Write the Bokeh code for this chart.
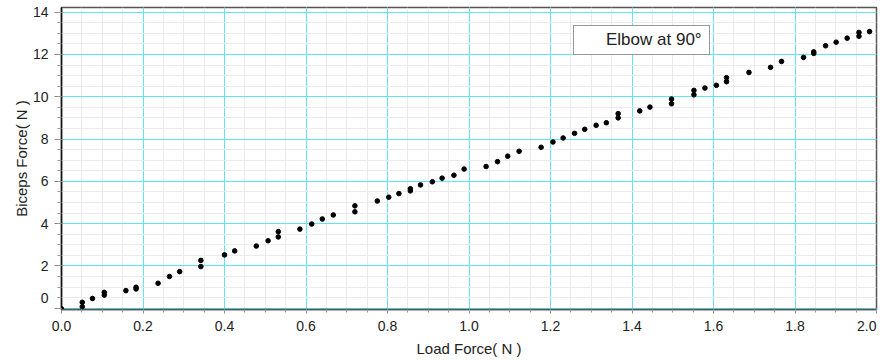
from bokeh.plotting import figure
from bokeh.models import FixedTicker, Range1d, Label, Legend, LegendItem
from bokeh.embed import file_html
from bokeh.resources import INLINE

# ---- data ----
load_force = [0.0, 0.051, 0.051, 0.076, 0.105, 0.105, 0.158, 0.183, 0.183, 0.237,
              0.265, 0.29, 0.342, 0.342, 0.40, 0.425, 0.478, 0.507, 0.532, 0.532,
              0.585, 0.614, 0.64, 0.667, 0.72, 0.72, 0.775, 0.803, 0.828, 0.856,
              0.856, 0.881, 0.91, 0.934, 0.963, 0.988, 1.042, 1.07, 1.095, 1.123,
              1.177, 1.206, 1.231, 1.259, 1.284, 1.312, 1.337, 1.366, 1.366, 1.419,
              1.444, 1.497, 1.497, 1.552, 1.552, 1.579, 1.607, 1.632, 1.632, 1.687,
              1.74, 1.767, 1.821, 1.846, 1.846, 1.875, 1.901, 1.928, 1.957, 1.957,
              1.983]
biceps_force = [-0.03, 0.28, 0.07, 0.46, 0.75, 0.62, 0.83, 0.99, 0.91, 1.18,
                1.50, 1.73, 2.26, 1.97, 2.52, 2.71, 2.94, 3.19, 3.62, 3.37,
                3.74, 3.98, 4.22, 4.41, 4.84, 4.56, 5.07, 5.25, 5.42, 5.65,
                5.55, 5.83, 5.98, 6.15, 6.29, 6.58, 6.70, 6.93, 7.19, 7.42,
                7.61, 7.86, 8.05, 8.27, 8.46, 8.65, 8.77, 9.20, 9.00, 9.33,
                9.51, 9.89, 9.67, 10.30, 10.09, 10.41, 10.54, 10.90, 10.71, 11.15,
                11.39, 11.67, 11.86, 12.12, 12.05, 12.41, 12.58, 12.77, 13.04, 12.86,
                13.08]

x_ticks = [0.0, 0.2, 0.4, 0.6, 0.8, 1.0, 1.2, 1.4, 1.6, 1.8, 2.0]
x_tick_labels = ["0.0", "0.2", "0.4", "0.6", "0.8", "1.0", "1.2", "1.4", "1.6", "1.8", "2.0"]
y_ticks = [0, 2, 4, 6, 8, 10, 12, 14]
y_tick_labels = ["0", "2", "4", "6", "8", "10", "12", "14"]
x_minor = [round(i * 0.05, 2) for i in range(41)]
y_minor = [i * 0.5 for i in range(0, 29)]

series_label = "Elbow at 90°"
x_title = "Load Force( N )"
y_title = "Biceps Force( N )"

FONT = "Liberation Sans"
CYAN = "#5fe6ee"
MINOR = "#ebebeb"

X_MIN, X_MAX = 0.0, 2.0
Y_MIN, Y_MAX = -0.061, 14.22

W, H = 880, 360
BL, BR, BT, BB = 61, 4, 7, 50

p = figure(width=W, height=H, output_backend="svg", toolbar_location=None,
           x_range=Range1d(X_MIN, X_MAX), y_range=Range1d(Y_MIN, Y_MAX),
           min_border_left=BL, min_border_right=BR, min_border_top=BT,
           min_border_bottom=BB)
p.background_fill_color = "white"
p.border_fill_color = "white"
p.outline_line_color = "#555555"
p.outline_line_width = 1.5

# grids
for g in (p.xgrid, p.ygrid):
    g.grid_line_color = CYAN
    g.grid_line_width = 1
    g.minor_grid_line_color = MINOR
    g.minor_grid_line_width = 1

# axes
p.xaxis.ticker = FixedTicker(ticks=x_ticks, minor_ticks=x_minor)
p.yaxis.ticker = FixedTicker(ticks=y_ticks, minor_ticks=y_minor)

x_over = {t: lab for t, lab in zip(x_ticks, x_tick_labels)}
x_over[x_ticks[-1]] = ""
y_over = {t: lab for t, lab in zip(y_ticks, y_tick_labels)}
y_over[y_ticks[0]] = ""
p.xaxis.major_label_overrides = x_over
p.yaxis.major_label_overrides = y_over

for ax in (p.xaxis, p.yaxis):
    ax.major_label_text_font = FONT
    ax.major_label_text_font_size = "14px"
    ax.major_label_text_color = "#222222"
    ax.axis_label_text_font = FONT
    ax.axis_label_text_font_size = "15px"
    ax.axis_label_text_font_style = "normal"
    ax.axis_label_text_color = "#222222"
    ax.major_tick_in = 0
    ax.minor_tick_in = 0
    ax.major_tick_line_color = "#888888"
    ax.minor_tick_line_color = "#999999"

X_TICK_OUT, X_STANDOFF = 4, 7
Y_TICK_OUT, Y_STANDOFF = 7, 6

p.yaxis.axis_label = y_title
p.xaxis.axis_line_color = "#555555"
p.xaxis.axis_line_width = 1.5
p.yaxis.axis_line_color = "#111111"
p.yaxis.axis_line_width = 1.5
p.xaxis.major_tick_out = X_TICK_OUT
p.xaxis.minor_tick_out = 3
p.xaxis.major_label_standoff = X_STANDOFF
p.yaxis.major_tick_out = Y_TICK_OUT
p.yaxis.minor_tick_out = 4
p.yaxis.major_label_standoff = Y_STANDOFF
p.yaxis.axis_label_standoff = 0

# edge tick labels kept inside, as in the reference, and the x title
# (side panels, so they are not clipped by the frame)
lab_kw = dict(text_font=FONT, text_font_size="14px", text_color="#222222")
p.add_layout(Label(x=x_ticks[-1], y=Y_MIN, text=x_tick_labels[-1], text_align="right",
                   text_baseline="top", y_offset=-(X_TICK_OUT + X_STANDOFF), **lab_kw),
             "below")
p.add_layout(Label(x=(X_MIN + X_MAX) / 2, y=Y_MIN, text=x_title, text_align="center",
                   text_baseline="middle", y_offset=-39, text_font=FONT,
                   text_font_size="15px", text_color="#222222"), "below")
p.add_layout(Label(x=X_MIN, y=y_ticks[0], text=y_tick_labels[0], text_align="right",
                   text_baseline="middle", x_offset=-(Y_TICK_OUT + Y_STANDOFF),
                   y_offset=10.5, **lab_kw), "left")

# data points
p.scatter(x=load_force, y=biceps_force, marker="circle", size=4.6,
          fill_color="black", line_color="black")

# legend (no visible swatch, as in the reference)
dummy = p.line(x=[], y=[], line_alpha=0)
legend = Legend(items=[LegendItem(label=series_label, renderers=[dummy])],
                location=(573 - BL, (H - BB) - 56), orientation="vertical")
legend.label_text_font = FONT
legend.label_text_font_size = "17px"
legend.label_text_color = "#222222"
legend.border_line_color = "#333333"
legend.border_line_width = 1
legend.background_fill_color = "white"
legend.background_fill_alpha = 1
legend.padding = 4
legend.glyph_width = 20
legend.glyph_height = 19
legend.label_standoff = 8
legend.label_width = 99
legend.label_height = 19
legend.margin = 0
p.add_layout(legend)

open("out.html", "w").write(file_html(p, INLINE))
